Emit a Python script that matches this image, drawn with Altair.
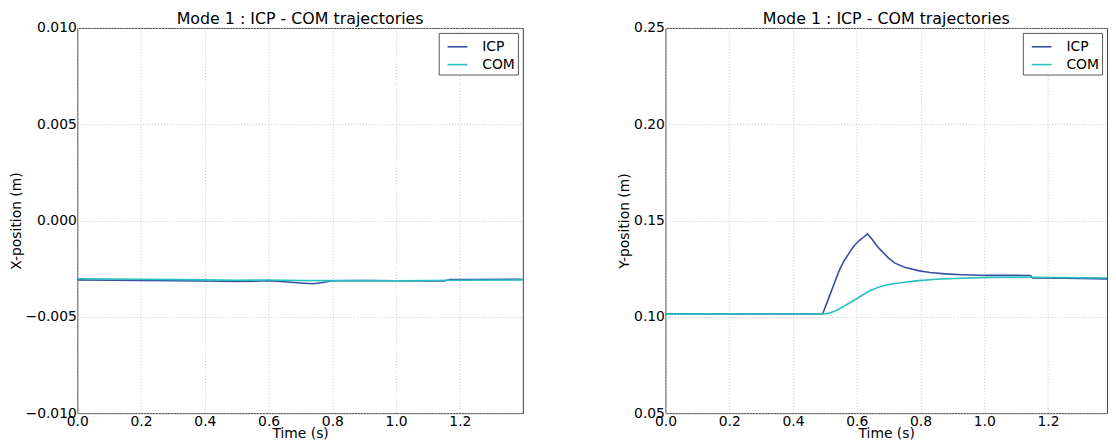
import altair as alt
import pandas as pd

series = ["ICP", "COM"]
colors = ["#3a4fa3", "#25c1be"]
x_ticks = [0.0, 0.2, 0.4, 0.6, 0.8, 1.0, 1.2]
left_y_ticks = [-0.010, -0.005, 0.000, 0.005, 0.010]
right_y_ticks = [0.05, 0.10, 0.15, 0.20, 0.25]
title_text = "Mode 1 : ICP - COM trajectories"

# X-position panel
icp_x_t = [0, 0.1, 0.2, 0.3, 0.4, 0.5, 0.58, 0.6, 0.65, 0.7, 0.74, 0.77, 0.8, 0.9, 1.0, 1.1, 1.15, 1.17, 1.25, 1.397]
icp_x_v = [-0.00308, -0.00310, -0.00311, -0.00312, -0.00314, -0.00316, -0.00314, -0.00312, -0.00318, -0.00324,
           -0.00328, -0.00322, -0.00313, -0.00312, -0.00313, -0.00314, -0.00314, -0.00306, -0.00306, -0.00305]
com_x_t = [0, 0.2, 0.4, 0.5, 0.6, 0.7, 0.8, 0.9, 1.0, 1.2, 1.397]
com_x_v = [-0.00302, -0.00305, -0.00308, -0.00310, -0.00309, -0.00311, -0.00312, -0.00312, -0.00313, -0.00310, -0.00308]

# Y-position panel
icp_y_t = [0, 0.3, 0.493, 0.51, 0.53, 0.544, 0.56, 0.576, 0.59, 0.607, 0.62, 0.634, 0.65, 0.665, 0.679, 0.70,
           0.72, 0.75, 0.793, 0.83, 0.876, 0.93, 0.99, 1.145, 1.152, 1.25, 1.395]
icp_y_v = [0.1014, 0.1015, 0.1015, 0.1088, 0.1175, 0.1236, 0.1290, 0.1331, 0.1365, 0.1395, 0.1412, 0.1431, 0.1399,
           0.1365, 0.1340, 0.1305, 0.1279, 0.1258, 0.1240, 0.1230, 0.1223, 0.1219, 0.1216, 0.1215, 0.1202, 0.1200, 0.1197]
com_y_t = [0, 0.3, 0.495, 0.51, 0.534, 0.56, 0.596, 0.638, 0.67, 0.70, 0.75, 0.793, 0.85, 0.907, 1.01, 1.145, 1.395]
com_y_v = [0.1014, 0.1015, 0.1015, 0.1018, 0.1032, 0.1055, 0.1090, 0.1133, 0.1155, 0.1168, 0.1180, 0.1188, 0.1195,
           0.1199, 0.1205, 0.1206, 0.1202]


def series_frame(t, v, name):
    return pd.DataFrame({"t": t, "v": v, "s": name})


x_df = pd.concat([series_frame(icp_x_t, icp_x_v, "ICP"), series_frame(com_x_t, com_x_v, "COM")])
y_df = pd.concat([series_frame(icp_y_t, icp_y_v, "ICP"), series_frame(com_y_t, com_y_v, "COM")])

FONT = "DejaVu Sans"
PLOT_H = 389
SCALE_PX = 322.0


def panel(df, ytitle, ydomain, yticks, yfmt, width):
    xmax = width / SCALE_PX
    return (
        alt.Chart(df, title=alt.TitleParams(title_text, fontSize=16, font=FONT, fontWeight="normal",
                                            color="#000", offset=-6, frame="group"))
        .mark_line(strokeWidth=1.6, clip=True)
        .encode(
            x=alt.X("t:Q", scale=alt.Scale(domain=[0, xmax], nice=False, zero=False),
                    axis=alt.Axis(title="Time (s)", values=x_ticks, format=".1f", labelPadding=1,
                                  titlePadding=-1)),
            y=alt.Y("v:Q", scale=alt.Scale(domain=ydomain, nice=False, zero=False),
                    axis=alt.Axis(title=ytitle, values=yticks, format=yfmt, labelPadding=1,
                                  titlePadding=2)),
            color=alt.Color("s:N", scale=alt.Scale(domain=series, range=colors), sort=series, title=None,
                            legend=alt.Legend(orient="top-right", offset=5, strokeColor="#555",
                                              fillColor="#ffffff", padding=3, symbolOffset=5,
                                              symbolType="stroke",
                                              symbolSize=400, symbolStrokeWidth=1.6, labelFontSize=14,
                                              labelFont=FONT, labelColor="#000", labelOffset=14,
                                              rowPadding=0, cornerRadius=0)),
        )
        .properties(width=width, height=PLOT_H)
    )


left = panel(x_df, "X-position (m)", [-0.01, 0.01], left_y_ticks, ".3f", 450)
right = panel(y_df, "Y-position (m)", [0.05, 0.25], right_y_ticks, ".2f", 446)

chart = (
    alt.hconcat(left, right, spacing=94)
    .resolve_legend(color="independent")
    .properties(padding={"left": 0, "top": 0, "right": 0, "bottom": 0})
    .configure_view(stroke="#444", strokeWidth=1)
    .configure_axis(
        grid=True, gridColor="#c4c4c4", gridDash=[1, 2], gridWidth=1,
        ticks=False, tickSize=0, domain=False,
        labelFont=FONT, labelFontSize=14, labelColor="#000", labelFlush=False,
        titleFont=FONT, titleFontSize=14, titleFontWeight="normal", titleColor="#000",
    )
)

chart.save("out.html", embed_options={"renderer": "svg", "actions": False})
